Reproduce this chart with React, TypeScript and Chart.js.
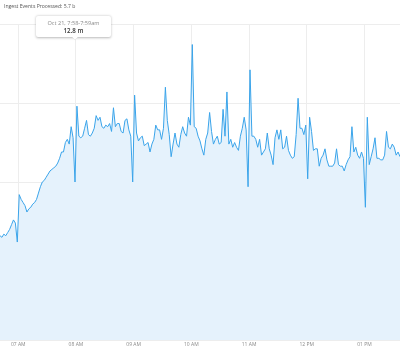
import React, { useEffect, useRef } from "react";
import { Chart, registerables } from "chart.js";

Chart.register(...registerables);

// Minutes relative to 07:00 AM; series sampled every 2 minutes starting 06:41
const START_MINUTE = -19;
const STEP_MINUTES = 2;
const END_MINUTE = 397;

// Ingest events processed per minute (millions)
const EVENTS_M: number[] = [
  6.6, 6.5, 6.7, 6.6, 6.8, 7.0, 7.3, 7.6, 7.4, 6.2,
  9.2, 8.9, 8.7, 8.5, 8.1, 8.3, 8.4, 8.6, 8.7, 8.9,
  9.3, 9.7, 10.0, 10.1, 10.3, 10.5, 10.7, 10.8, 10.9, 11.0,
  11.2, 11.5, 11.9, 11.9, 12.5, 12.7, 12.4, 13.5, 12.8, 10.0,
  14.8, 12.9, 12.8, 12.9, 13.4, 13.9, 13.0, 12.9, 13.1, 13.4,
  14.2, 13.9, 14.1, 13.5, 13.4, 13.6, 13.5, 13.7, 13.2, 14.7,
  13.5, 13.7, 13.7, 13.2, 13.1, 13.9, 14.0, 13.3, 12.9, 10.0,
  15.5, 13.1, 12.6, 12.8, 12.9, 12.3, 12.4, 12.5, 11.9, 12.4,
  12.7, 13.6, 13.3, 13.3, 12.7, 13.4, 16.0, 13.9, 13.0, 11.6,
  12.4, 13.1, 12.4, 12.2, 13.0, 13.5, 13.1, 12.9, 14.1, 13.6,
  18.7, 13.5, 13.4, 12.9, 12.6, 12.1, 11.7, 12.7, 13.1, 14.4,
  13.2, 12.4, 12.7, 12.9, 12.4, 12.5, 14.6, 12.9, 15.7, 12.4,
  12.7, 12.2, 12.5, 12.2, 12.0, 12.9, 13.4, 14.1, 13.3, 9.7,
  17.1, 12.9, 12.9, 12.7, 12.2, 12.7, 11.7, 11.9, 12.1, 13.1,
  12.1, 11.7, 11.1, 12.8, 13.3, 12.7, 13.3, 12.1, 12.2, 12.9,
  12.0, 11.7, 11.5, 11.6, 13.0, 15.3, 13.4, 13.4, 13.0, 13.6,
  10.2, 14.1, 13.2, 12.0, 12.1, 12.1, 11.0, 11.5, 11.7, 12.1,
  11.4, 11.0, 11.0, 11.0, 11.2, 12.1, 11.1, 11.0, 11.0, 10.7,
  11.1, 11.4, 11.6, 13.5, 11.9, 12.2, 11.7, 11.5, 11.9, 11.5,
  8.4, 14.1, 11.1, 11.6, 12.1, 12.8, 11.5, 11.5, 11.4, 11.4,
  11.7, 13.2, 12.2, 12.1, 12.4, 12.2, 11.7, 11.9, 11.6,
];

const TICK_MINUTES = [0, 60, 120, 180, 240, 300, 360];
const TICK_LABELS = ["07 AM", "08 AM", "09 AM", "10 AM", "11 AM", "12 PM", "01 PM"];

const Y_TICKS = [0, 5, 10, 15, 20];

const TITLE = "Ingest Events Processed: 5.7 b";
const TOOLTIP_TITLE = "Oct 21, 7:58-7:59am";
const TOOLTIP_VALUE = "12.8 m";

const FONT = "'Open Sans', 'Noto Sans', sans-serif";

export default function App() {
  const canvasRef = useRef<HTMLCanvasElement | null>(null);

  useEffect(() => {
    const canvas = canvasRef.current;
    if (!canvas) return;
    const points = EVENTS_M.map((v, i) => ({ x: START_MINUTE + i * STEP_MINUTES, y: v }));
    const chart = new Chart(canvas, {
      type: "line",
      data: {
        datasets: [
          {
            data: points,
            borderColor: "#3aa4ea",
            borderWidth: 1,
            backgroundColor: "#e5f2fc",
            fill: "origin",
            pointRadius: 0,
            tension: 0,
          },
        ],
      },
      options: {
        animation: false,
        responsive: false,
        maintainAspectRatio: false,
        layout: { padding: { top: 24, bottom: 4, left: 0, right: 0 } },
        plugins: {
          legend: { display: false },
          tooltip: { enabled: false },
          title: { display: false },
        },
        scales: {
          x: {
            type: "linear",
            min: START_MINUTE,
            max: END_MINUTE,
            afterBuildTicks: (scale: any) => {
              scale.ticks = TICK_MINUTES.map((v) => ({ value: v }));
            },
            grid: { color: "#ededed", drawTicks: false, lineWidth: 1 },
            border: { display: false },
            ticks: {
              autoSkip: false,
              maxRotation: 0,
              padding: 2,
              color: "#8a8a8a",
              font: { family: FONT, size: 5 },
              callback: (value: any) => {
                const idx = TICK_MINUTES.indexOf(Number(value));
                return idx >= 0 ? TICK_LABELS[idx] : "";
              },
            },
          },
          y: {
            type: "linear",
            min: 0,
            max: 20,
            afterBuildTicks: (scale: any) => {
              scale.ticks = Y_TICKS.map((v) => ({ value: v }));
            },
            grid: { color: "#ededed", drawTicks: false, lineWidth: 1 },
            border: { display: false },
            ticks: { display: false },
          },
        },
      },
    } as any);
    return () => chart.destroy();
  }, []);

  return (
    <div
      style={{
        position: "fixed",
        left: 0,
        top: 0,
        width: 400,
        height: 354,
        background: "#ffffff",
        fontFamily: FONT,
        overflow: "hidden",
      }}
    >
      <canvas ref={canvasRef} width={400} height={354} style={{ display: "block", width: 400, height: 354 }} />
      <div
        style={{
          position: "absolute",
          left: 4,
          top: 2,
          fontSize: 5.1,
          lineHeight: "8px",
          color: "#555",
          whiteSpace: "nowrap",
        }}
      >
        {TITLE}
      </div>
      <div
        style={{
          position: "absolute",
          left: 36,
          top: 16,
          width: 75,
          height: 21,
          background: "#fff",
          borderRadius: 2,
          boxShadow: "0 0.5px 2.5px rgba(0,0,0,0.28)",
          textAlign: "center",
          whiteSpace: "nowrap",
        }}
      >
        <div style={{ fontSize: 5.6, lineHeight: "7px", color: "#8a8a8a", marginTop: 3.5 }}>{TOOLTIP_TITLE}</div>
        <div style={{ fontSize: 6.2, lineHeight: "8px", color: "#333", fontWeight: 600 }}>{TOOLTIP_VALUE}</div>
      </div>
      <div
        style={{
          position: "absolute",
          left: 72,
          top: 37,
          width: 0,
          height: 0,
          borderLeft: "3px solid transparent",
          borderRight: "3px solid transparent",
          borderTop: "3px solid #fff",
          filter: "drop-shadow(0 0.5px 0.5px rgba(0,0,0,0.2))",
        }}
      />
    </div>
  );
}
